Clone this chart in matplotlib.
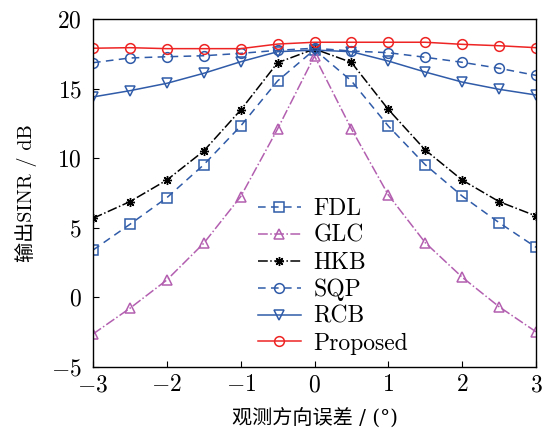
import matplotlib
matplotlib.use("Agg")
import matplotlib.pyplot as plt
import numpy as np

plt.rcParams["font.family"] = ["cmr10", "Noto Sans CJK SC"]
plt.rcParams["mathtext.fontset"] = "cm"
plt.rcParams["axes.formatter.use_mathtext"] = True
plt.rcParams["axes.unicode_minus"] = True

# pointing error (deg)
err = [-3, -2.5, -2, -1.5, -1, -0.5, 0, 0.5, 1, 1.5, 2, 2.5, 3]

fdl = [3.4, 5.25, 7.16, 9.53, 12.31, 15.55, 17.8, 15.55, 12.31, 9.53, 7.28, 5.37, 3.6]
glc = [-2.63, -0.78, 1.25, 3.89, 7.24, 12.1, 17.34, 12.1, 7.36, 3.93, 1.45, -0.67, -2.47]
hkb = [5.68, 6.88, 8.43, 10.52, 13.46, 16.86, 17.85, 16.88, 13.5, 10.59, 8.43, 6.88, 5.85]
sqp = [16.86, 17.2, 17.29, 17.36, 17.53, 17.75, 17.9, 17.7, 17.58, 17.25, 16.89, 16.46, 15.95]
rcb = [14.4, 14.85, 15.38, 16.1, 16.93, 17.65, 17.77, 17.65, 16.98, 16.19, 15.47, 14.95, 14.54]
proposed = [17.9, 17.94, 17.87, 17.87, 17.87, 18.2, 18.33, 18.33, 18.33, 18.33, 18.18, 18.08, 17.94]

blue = "#2f5ba8"
purple = "#b35fb0"
red = "#ee2424"

fig = plt.figure(figsize=(5.44, 4.28), dpi=100)
ax = fig.add_axes([93 / 544, 1 - 367 / 428, 443 / 544, 348 / 428])

mk = dict(markersize=7, markerfacecolor="none", markeredgewidth=1.1, linewidth=1.1)
ax.plot(err, fdl, color=blue, marker="s", dashes=(5, 3.5), label="FDL", **mk)
ax.plot(err, glc, "-.", color=purple, marker="^", label="GLC", **mk)
ax.plot(err, hkb, "-.", color="black", marker=(8, 2, 0), markersize=6.5, linewidth=1.1, label="HKB")
ax.plot(err, sqp, color=blue, marker="o", dashes=(5, 3.5), label="SQP", **mk)
ax.plot(err, rcb, "-", color=blue, marker="v", label="RCB", **mk)
ax.plot(err, proposed, "-", color=red, marker="o", label="Proposed", **mk)

ax.set_xlim(-3, 3)
ax.set_ylim(-5, 20)
ax.set_xticks(np.arange(-3, 4, 1))
ax.set_yticks(np.arange(-5, 21, 5))
ax.tick_params(direction="in", labelsize=17, length=4, width=0.8)
ax.tick_params(axis="y", pad=8)
ax.tick_params(axis="x", pad=5)
for s in ax.spines.values():
    s.set_linewidth(1.0)

# cmr10 has no degree sign, so this label uses DejaVu Serif with CJK fallback
ax.set_xlabel("观测方向误差 / (°)", fontsize=14.5, labelpad=8,
              family=["DejaVu Serif", "Noto Sans CJK SC"])
ax.set_ylabel("输出SINR / dB", fontsize=14.5, labelpad=10)

ax.legend(loc="upper left", bbox_to_anchor=(0.33, 0.54), frameon=False,
          fontsize=17, handlelength=1.8, labelspacing=0.2, handletextpad=0.55,
          borderpad=0.3)

fig.savefig("out.png", dpi=100)
